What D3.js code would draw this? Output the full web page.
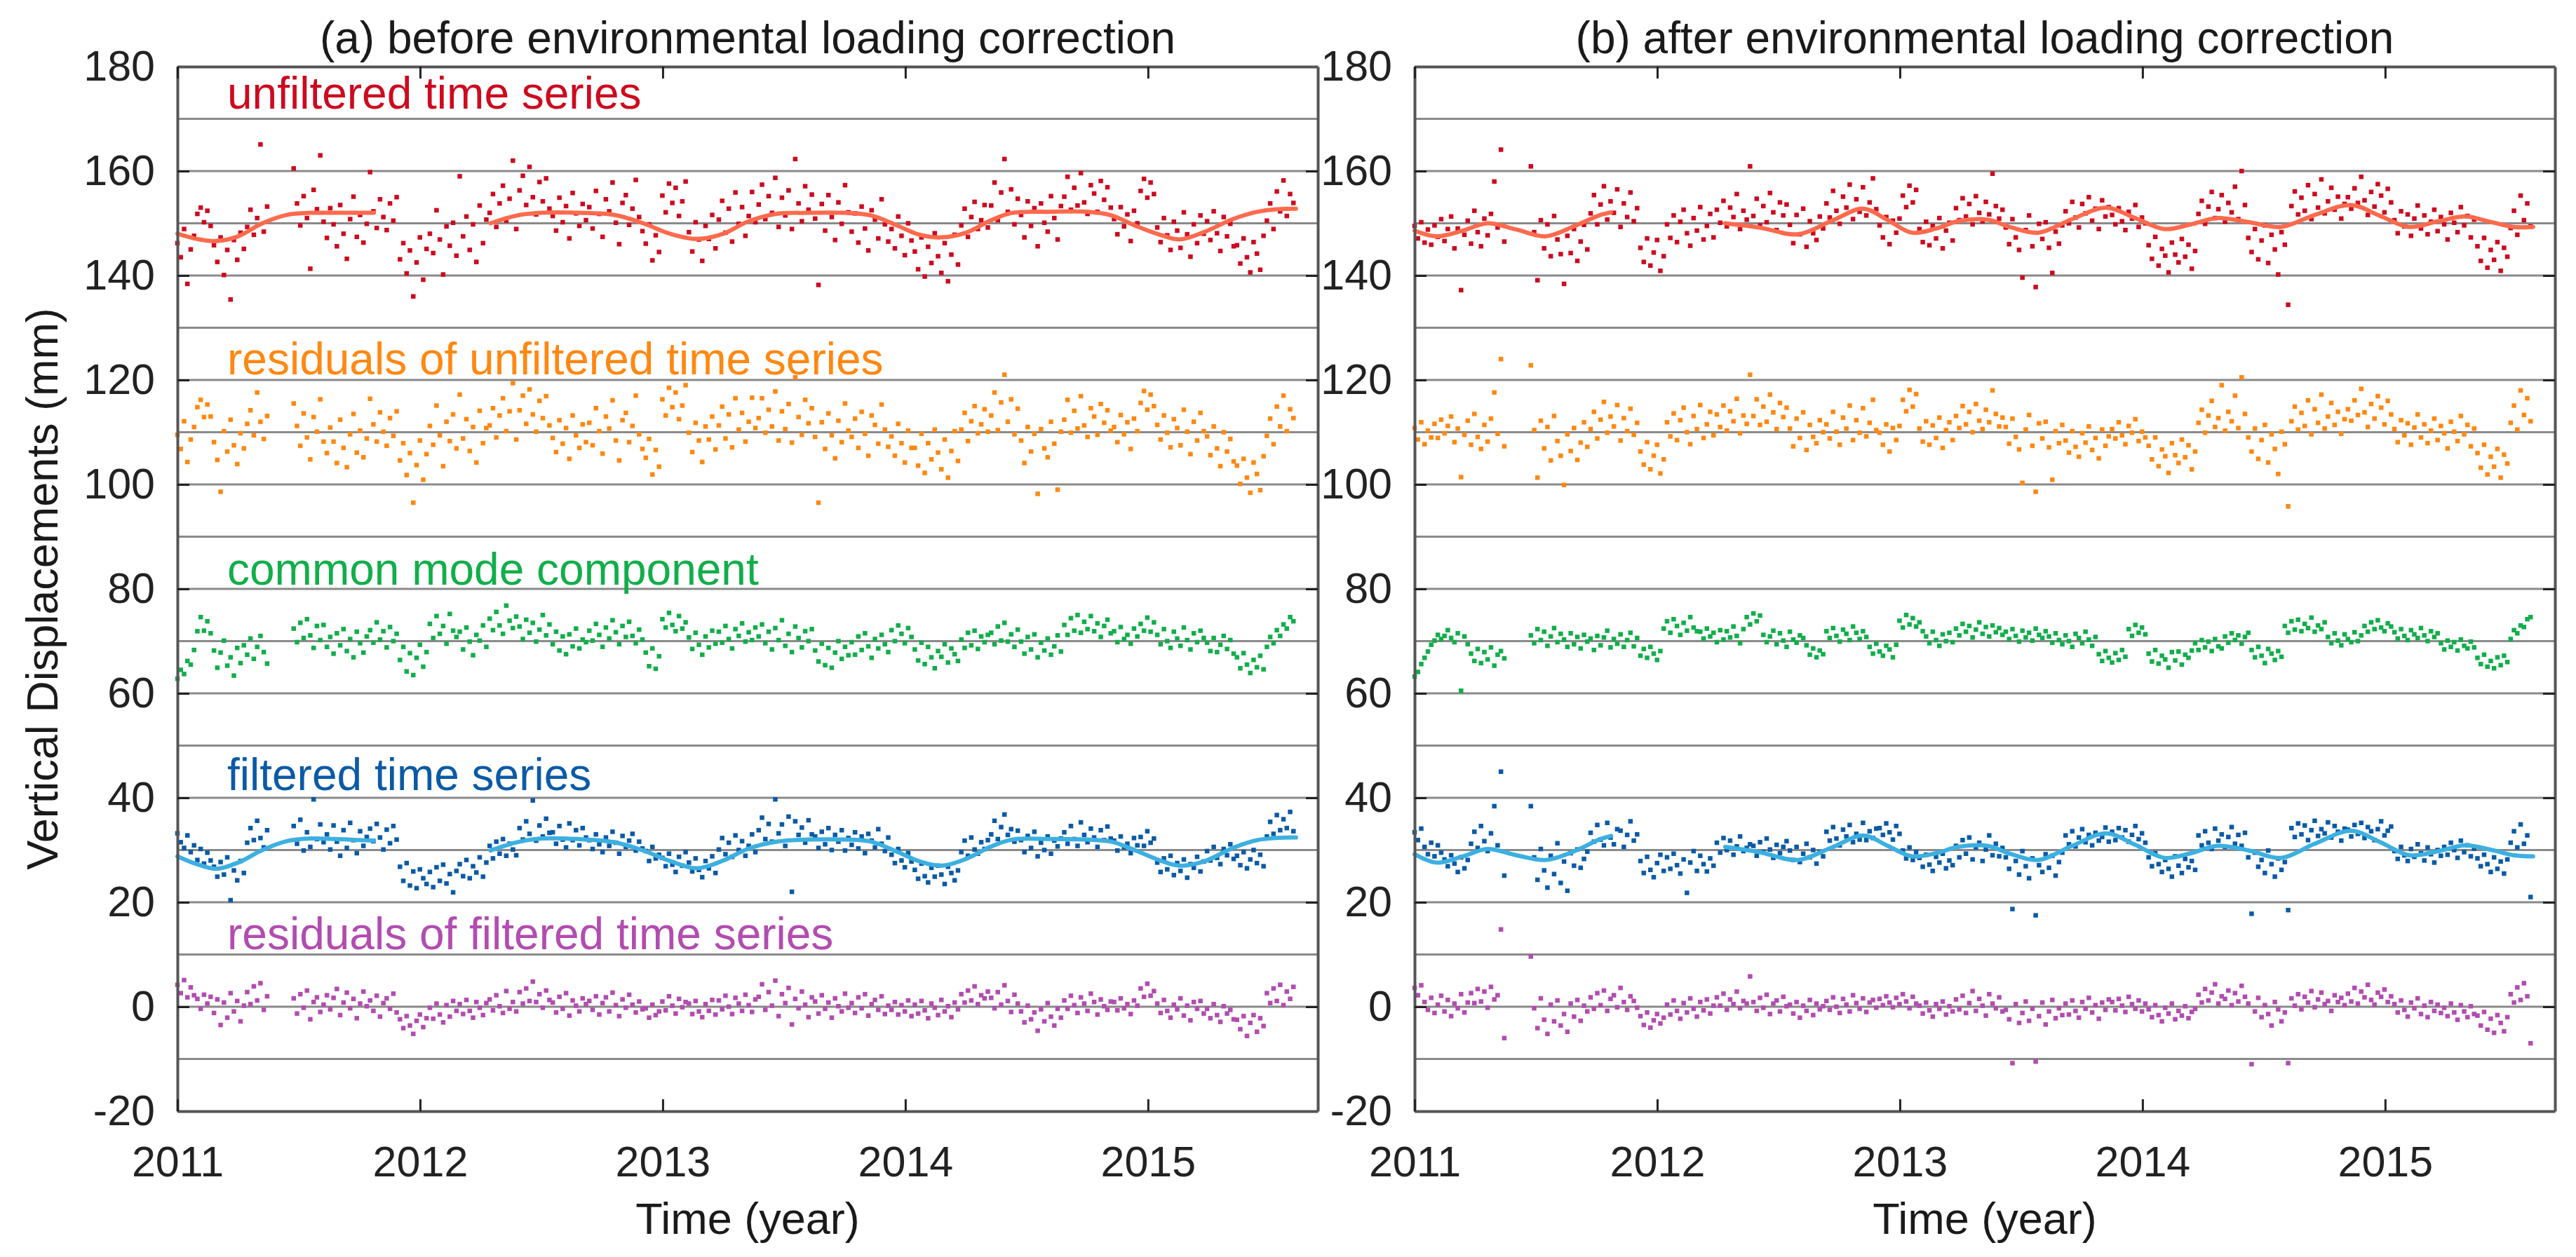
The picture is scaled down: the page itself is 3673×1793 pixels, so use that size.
<!DOCTYPE html>
<html>
<head>
<meta charset="utf-8">
<script src="https://cdn.jsdelivr.net/npm/d3@7"></script>
<style>body{margin:0;background:#fff}</style>
</head>
<body>
<div id="chart"></div>
<script>
// one value every stepDays days from startYear, null = no observation
const startYear = 2011.0
const stepDays = 5
const N = null

// (a) before environmental loading correction
const aRed = [146.2,143.5,148.9,138.4,145.0,147.6,151.8,153.0,150.2,152.4,
149.5,145.8,142.6,147.3,140.1,144.9,135.4,146.8,143.0,148.2,
145.1,149.3,152.6,147.8,151.0,165.1,148.4,153.2,
N,N,N,N,N,N,N,
160.5,153.8,149.6,155.2,151.0,141.3,156.4,152.7,163.0,150.3,
147.2,152.9,149.8,145.6,153.5,148.0,143.2,150.8,155.1,147.4,151.6,146.3,149.9,
159.8,152.3,149.1,154.6,151.2,148.7,153.8,150.5,155.0,
143.1,146.2,140.4,144.8,136.0,142.5,147.3,139.2,145.1,
148.0,144.3,152.5,146.9,140.2,149.4,145.7,150.1,143.8,
159.0,147.5,151.3,144.9,149.8,142.6,153.4,146.2,150.7,
152.0,155.6,149.3,153.8,157.2,150.5,154.7,162.0,148.9,
156.3,159.1,153.5,160.8,155.0,151.7,157.9,154.2,158.6,152.8,
151.4,148.6,154.9,150.2,153.3,147.1,155.8,151.9,149.5,153.7,150.6,
153.1,149.0,156.2,151.8,147.4,154.6,152.3,157.8,150.1,146.0,153.9,155.4,149.7,152.8,158.3,151.2,148.5,
146.1,149.8,142.9,147.7,144.5,
155.3,152.1,157.6,153.9,156.8,151.4,154.2,158.0,
148.3,144.6,150.2,146.9,142.8,149.5,147.0,151.6,145.2,
150.7,154.3,148.2,152.8,146.5,155.9,149.9,153.1,147.6,151.4,156.0,150.2,
153.6,157.4,150.8,155.2,152.0,158.7,149.3,154.9,151.5,156.3,148.9,162.3,153.8,150.4,157.1,152.6,155.5,
150.9,138.2,153.7,148.6,155.4,151.2,146.8,154.0,149.9,157.3,152.1,
148.4,151.9,146.3,153.2,149.0,144.8,152.5,150.7,147.1,154.6,149.8,146.5,
148.9,145.2,151.3,147.6,143.9,150.0,146.7,
144.6,141.2,147.3,139.8,145.5,142.4,148.1,143.7,140.5,146.2,138.9,144.0,147.8,142.1,
149.6,152.8,147.4,151.2,154.1,148.9,150.6,153.5,149.2,
153.4,157.8,150.6,155.9,162.3,152.2,156.5,149.8,154.7,
151.6,147.3,154.2,149.5,152.9,145.6,153.8,150.1,148.4,155.2,151.0,146.9,153.3,
155.1,158.9,152.6,156.8,153.4,159.6,154.0,151.8,157.3,155.7,152.2,158.1,154.5,156.9,153.0,
150.8,147.9,153.1,149.4,151.7,146.6,152.4,150.0,
156.2,158.5,154.9,157.8,155.6,
149.2,146.4,151.0,147.7,144.9,150.3,148.6,145.3,152.1,147.9,143.6,149.8,146.2,151.5,148.0,
150.4,146.8,152.3,148.1,144.7,151.2,147.5,149.9,145.6,
145.8,142.3,147.1,143.5,140.6,146.4,144.2,141.1,147.6,
150.5,153.8,148.9,156.1,152.3,158.2,151.4,155.6,153.9]

const aRes = [109.5,106.8,112.1,104.3,108.6,111.0,114.8,116.2,112.9,115.3,
113.0,108.1,104.7,98.6,110.2,106.3,112.4,107.5,103.9,109.8,
106.9,111.6,114.2,109.4,117.6,112.0,108.7,113.1,
N,N,N,N,N,N,N,
115.5,111.2,107.4,113.6,109.0,104.8,112.9,110.1,116.3,108.2,
106.0,110.9,108.2,104.1,112.4,107.0,103.3,109.6,113.5,106.1,110.3,105.2,108.8,
116.4,111.5,108.2,113.8,110.1,107.4,112.7,109.3,114.0,
104.6,107.9,101.8,106.0,96.5,103.7,108.4,100.9,105.8,
111.2,107.6,115.1,109.4,103.5,112.0,108.3,113.4,106.9,
117.2,108.8,112.5,106.4,111.0,104.2,114.1,107.9,110.8,
111.3,114.6,109.0,113.2,116.5,110.2,114.0,119.4,108.6,
114.2,117.0,111.6,118.2,113.4,110.1,116.0,112.7,116.9,111.3,
108.9,106.2,112.3,107.8,110.8,104.9,113.2,109.4,107.0,111.5,108.1,
111.8,107.5,114.6,110.2,105.9,113.0,110.7,116.1,108.4,104.6,112.3,113.7,108.1,111.2,117.0,109.6,106.8,
105.1,108.7,101.9,106.6,103.4,
116.3,113.2,118.5,114.8,117.6,112.5,115.1,119.0,
109.9,106.2,111.8,108.4,104.3,111.1,108.6,113.0,106.7,
111.3,114.9,108.8,113.4,107.1,116.5,110.5,113.7,108.2,112.0,116.6,110.8,
112.7,116.5,109.9,114.3,111.1,117.8,108.4,114.0,110.6,115.4,108.0,120.5,112.9,109.5,116.2,111.7,114.6,
109.1,96.5,111.9,106.8,113.6,109.4,105.0,112.2,108.1,115.5,110.3,
109.1,112.6,107.0,113.9,109.7,105.5,113.2,111.4,107.8,115.3,110.5,107.2,
109.2,105.5,111.6,107.9,104.2,110.3,107.0,
107.0,103.6,109.7,102.2,107.9,104.8,110.5,106.1,102.9,108.6,101.3,106.4,110.2,104.5,
110.5,113.7,108.3,112.1,115.0,109.8,111.5,114.4,110.1,
113.2,117.6,110.4,115.7,121.0,112.0,116.3,109.6,114.5,
108.4,104.1,111.0,106.3,109.7,98.2,110.6,106.9,105.2,112.0,107.8,99.0,110.1,
112.4,116.2,109.9,114.1,110.7,116.9,111.3,109.1,114.6,113.0,109.5,115.4,111.8,114.2,110.3,
111.0,108.1,113.3,109.6,111.9,106.8,112.6,110.2,
115.6,117.9,114.3,117.2,115.0,
111.4,108.6,113.2,109.9,107.1,112.5,110.8,107.5,114.3,110.1,105.8,112.0,108.4,113.7,110.2,
109.2,105.6,111.1,106.9,103.5,110.0,106.3,108.7,104.4,
103.6,100.1,104.9,101.3,98.4,104.2,102.0,98.9,105.4,
109.3,112.6,107.7,114.9,111.1,117.0,110.2,114.4,112.7]

const aCmc = [62.8,64.5,63.7,66.2,65.5,68.3,71.9,74.6,72.0,73.8,
71.5,68.2,64.9,67.8,70.1,65.3,66.9,63.4,68.7,65.8,
69.2,67.4,70.5,66.6,68.9,71.0,67.9,65.7,
N,N,N,N,N,N,N,
72.4,69.8,73.5,70.6,74.2,71.1,68.7,72.9,70.2,73.1,
68.9,70.8,67.6,71.5,69.2,72.3,68.1,70.4,66.9,71.8,69.6,67.8,70.9,
72.1,69.7,73.6,70.3,71.9,68.8,72.7,70.0,71.4,
66.4,68.9,64.2,67.7,63.5,66.8,69.3,65.1,67.9,
73.3,70.6,74.8,71.4,72.9,69.5,75.2,72.0,70.8,
71.8,68.4,72.6,69.9,67.3,71.2,70.1,73.0,68.9,
74.3,72.1,75.6,73.0,71.4,76.8,73.9,72.5,74.7,
72.8,70.4,74.1,71.6,73.5,69.9,72.2,75.0,71.1,73.2,
69.4,71.8,68.2,70.9,67.5,71.3,69.0,72.4,68.6,70.3,69.8,
72.0,70.1,73.3,71.2,68.9,72.6,70.5,74.0,71.7,69.4,72.9,70.8,73.7,71.0,69.6,72.2,70.3,
67.8,65.2,68.6,64.7,67.1,
74.2,72.6,75.4,73.1,71.9,74.8,72.4,73.6,
70.7,68.5,71.6,69.3,67.4,70.9,68.8,72.0,69.5,
71.8,69.7,72.9,70.4,68.6,72.3,71.0,73.4,69.9,71.7,70.2,72.6,
70.9,73.2,69.6,71.8,68.4,72.5,70.2,74.0,69.1,71.4,67.9,72.8,70.6,68.8,71.9,70.0,72.3,
68.2,66.1,69.5,65.4,68.7,64.9,67.8,70.0,66.6,68.9,67.3,
69.8,67.4,70.9,68.3,71.5,69.0,66.8,70.4,68.6,71.2,69.4,67.9,
72.1,70.0,73.0,71.4,69.6,72.5,70.8,
68.4,66.3,69.7,65.6,68.9,66.9,64.8,68.1,67.0,69.4,65.9,68.6,67.5,66.2,
70.3,68.7,71.6,69.2,72.0,68.5,70.9,69.8,71.2,
71.6,69.4,72.8,70.1,73.5,69.9,71.3,68.9,72.2,
69.9,67.6,70.8,68.4,71.3,66.9,69.7,68.2,70.5,67.4,69.0,71.1,68.0,
73.1,71.2,74.4,72.0,75.0,71.6,73.7,72.3,74.8,71.9,73.4,70.8,72.9,74.1,71.5,
71.9,69.8,72.7,70.4,71.2,69.5,72.4,70.9,
73.3,72.0,74.5,71.8,73.6,
71.2,69.4,72.3,70.0,68.7,71.8,70.5,69.1,72.6,70.2,68.4,71.5,69.8,72.0,70.6,
69.7,68.1,70.6,67.9,69.3,71.0,68.5,70.2,67.6,
66.9,64.8,67.7,65.5,63.9,66.4,65.0,67.2,64.6,
68.9,70.8,69.6,72.1,71.0,73.2,72.4,74.6,73.8]

const aFil = [33.2,31.5,30.4,32.8,29.6,30.9,28.1,30.2,27.4,29.5,
28.0,26.8,24.9,27.7,25.3,28.6,20.4,26.1,24.2,27.9,
25.6,31.4,34.2,31.9,35.6,32.3,30.5,33.8,
N,N,N,N,N,N,N,
34.6,31.2,35.8,29.9,33.4,30.6,39.7,32.1,34.9,31.5,
33.0,30.1,34.7,31.6,28.9,33.8,30.4,35.2,31.9,29.4,33.6,30.8,32.5,
34.1,31.7,35.0,32.4,30.1,33.9,31.3,34.6,32.0,
26.8,24.1,27.5,23.2,25.9,22.7,26.3,24.6,23.5,
25.8,22.9,26.7,24.1,27.2,23.6,25.4,21.9,26.0,
27.3,25.0,28.1,24.6,26.9,25.7,28.6,24.9,27.6,
30.8,28.4,31.6,29.3,32.1,28.9,31.2,30.1,29.0,
34.2,32.0,35.5,33.1,39.5,31.8,34.7,32.6,36.0,33.3,
33.4,31.2,34.6,32.0,30.5,35.1,31.9,33.8,30.9,34.2,32.4,
31.9,30.2,33.0,31.1,29.6,32.4,30.8,33.5,31.4,29.3,32.7,30.6,31.8,33.1,29.9,31.6,30.3,
29.8,27.9,30.6,28.4,29.1,
28.5,26.9,29.3,27.2,25.8,28.7,27.0,29.6,
27.6,25.9,28.4,26.2,24.8,27.9,26.5,28.8,25.6,
30.1,32.3,29.2,31.4,28.7,32.8,30.0,31.7,28.9,30.8,33.0,29.6,
33.8,36.2,32.1,35.0,31.6,39.7,33.2,34.9,30.8,36.4,22.0,35.5,32.9,34.3,31.4,35.7,33.0,
32.6,30.4,33.5,31.1,34.2,30.0,32.9,31.6,33.8,29.9,32.3,
31.0,33.4,30.3,32.6,29.4,33.1,31.8,30.5,34.0,31.2,29.8,32.4,
29.1,27.5,30.2,28.0,26.7,29.4,27.8,
26.2,24.5,27.4,25.0,23.8,26.6,24.9,27.0,25.3,23.5,26.8,25.6,24.2,26.1,
29.6,31.8,28.9,32.4,30.1,29.3,31.5,30.2,31.9,
33.0,35.6,32.1,34.4,36.8,32.9,34.0,31.6,33.7,
31.9,29.6,32.7,30.4,33.5,28.8,31.4,30.0,32.6,29.3,31.8,30.7,32.2,
33.4,31.2,34.6,32.1,30.8,35.3,32.9,31.5,34.1,32.4,30.6,33.8,31.9,34.5,32.2,
31.8,29.9,32.6,30.5,31.2,29.4,32.3,30.9,
32.5,30.8,33.6,31.4,32.2,
27.6,25.8,28.4,26.3,28.9,25.2,27.5,26.0,28.2,24.7,27.3,26.6,28.7,25.9,27.8,
29.8,28.0,30.6,28.5,27.3,30.2,29.0,31.1,28.3,
28.9,27.1,29.6,26.5,28.2,30.0,27.5,29.1,26.9,
32.6,35.4,33.1,36.7,33.8,35.9,34.2,37.3,33.6]

const aFres = [4.2,2.6,5.1,1.8,3.7,2.2,1.5,-0.4,2.3,0.6,
1.9,-1.2,1.4,-3.5,0.8,-2.1,2.6,-0.9,1.1,-2.8,
0.2,2.8,0.5,3.9,1.2,4.5,-0.6,2.0,
N,N,N,N,N,N,N,
1.6,-1.3,2.4,-0.2,3.1,-2.4,0.9,1.8,-1.0,0.4,
2.2,-0.5,1.7,3.4,-1.6,0.8,2.7,-0.3,1.5,-2.2,0.6,2.9,0.1,
1.2,-0.8,2.1,-1.9,0.7,1.6,-0.4,2.5,-1.1,
-2.4,-4.1,-1.8,-3.6,-5.2,-2.7,-1.5,-3.9,-2.2,
-0.2,-2.3,0.6,-1.5,-3.0,0.3,-1.9,1.1,-0.8,
0.5,-1.4,1.3,-0.8,-2.1,0.9,-0.2,-1.6,0.7,
1.4,-0.7,2.2,0.1,-1.2,3.0,-0.4,0.9,-0.9,
2.8,0.6,3.5,1.1,4.8,0.9,2.4,-0.2,3.1,1.3,
0.8,-1.1,1.9,-0.4,2.6,-1.7,1.2,0.2,-0.9,1.6,0.5,
1.1,-0.6,2.0,-1.5,0.7,1.8,-0.9,2.7,0.3,-1.8,1.4,-0.2,2.3,0.4,-1.1,1.0,-0.5,
-0.3,-2.1,0.4,-1.6,-0.9,
1.0,-0.7,2.0,0.2,-1.3,1.5,-0.1,0.9,
0.6,-1.4,1.1,-0.9,-2.0,0.5,-0.8,1.3,-1.5,
1.2,-0.5,2.1,0.0,-1.4,1.7,0.6,-0.8,2.3,0.3,-1.0,1.4,
1.9,4.3,-0.6,2.8,0.2,5.0,-1.8,2.4,0.7,3.6,-3.4,1.5,-0.3,2.9,0.4,-2.0,1.8,
1.0,-1.3,2.2,-0.4,0.8,-2.1,1.6,0.1,-0.9,2.5,-0.2,
0.7,-1.2,1.8,-0.3,2.4,-1.7,0.5,1.3,-0.6,2.0,-1.4,0.2,
-0.6,0.9,-1.5,0.3,-0.9,1.2,-1.8,
0.4,-1.3,1.1,-0.7,-2.2,0.6,-0.2,-1.6,1.3,-0.9,0.1,-2.0,0.8,-0.5,
2.4,0.8,3.1,1.2,3.9,0.5,2.2,1.6,2.9,
1.7,-0.3,2.8,0.4,4.1,1.1,-1.0,2.3,0.6,
-0.9,-3.0,0.2,-2.4,-1.1,-4.6,-0.5,-2.8,0.7,-1.9,-3.6,-0.4,-2.1,
1.2,-0.4,2.1,0.3,-1.2,1.8,0.6,-0.8,2.5,0.9,-1.5,1.4,0.1,-0.6,1.0,
0.9,-0.7,1.6,-0.3,0.5,-1.4,1.2,0.2,
3.5,1.9,4.4,2.1,3.0,
0.6,-1.2,1.3,-0.8,-2.1,0.4,-0.5,1.6,-1.7,0.2,-2.6,0.9,-0.4,1.1,-1.3,
-0.4,-2.2,0.5,-1.6,-2.9,0.1,-1.3,-0.6,-2.4,
-2.5,-4.3,-1.8,-5.6,-3.1,-1.6,-4.8,-2.2,-3.7,
2.6,0.7,3.5,1.1,4.2,0.3,2.9,1.5,3.8]

// (b) after environmental loading correction
const bRed = [149.5,147.1,150.2,146.3,148.8,145.9,149.6,147.4,150.8,146.6,
148.9,151.3,145.2,149.0,137.2,147.8,150.5,146.1,152.4,148.3,
145.6,150.9,147.7,151.8,158.0,149.2,164.1,146.5,
N,N,N,N,N,N,N,
160.9,148.3,139.1,150.6,145.2,149.8,143.7,151.4,146.9,144.1,
138.4,147.6,144.3,148.9,142.8,146.5,149.7,145.0,
151.9,155.4,149.8,153.6,157.1,150.7,154.2,152.0,156.5,149.3,153.8,151.2,155.9,150.4,152.9,
145.3,142.6,147.1,141.9,144.4,146.8,140.9,143.7,
149.8,147.2,151.5,146.4,150.3,152.6,148.1,145.7,151.0,148.6,153.1,146.9,149.5,151.8,147.3,
152.6,150.1,154.3,149.4,153.0,151.2,155.6,148.9,152.4,150.7,160.9,
151.4,154.7,149.6,153.3,150.2,155.8,152.1,148.7,154.0,151.5,153.6,
149.7,146.2,151.6,147.9,152.8,145.5,150.4,148.1,146.8,151.3,149.0,
153.8,151.1,156.2,152.4,149.9,155.1,153.0,157.4,150.8,154.6,152.2,156.9,151.5,154.0,158.6,152.7,
149.6,147.3,151.2,146.0,150.5,148.2,150.9,
155.3,153.1,157.2,154.0,156.4,
148.9,146.4,150.3,145.8,149.5,147.1,151.0,145.2,148.6,150.1,146.7,
152.9,150.6,154.8,151.3,153.7,149.8,155.2,152.0,150.4,154.1,151.7,159.5,153.3,150.9,152.6,
149.2,146.0,150.8,147.3,144.9,139.6,148.7,151.5,145.6,137.8,149.9,147.0,150.2,145.3,140.5,148.4,146.1,149.6,
152.3,150.0,154.1,151.1,149.2,153.7,151.9,155.0,150.5,152.8,148.9,154.4,151.3,153.1,
151.6,149.8,152.9,150.4,148.7,152.2,150.9,153.5,149.3,151.1,150.0,
145.8,143.2,147.4,141.9,145.1,143.8,140.6,146.3,144.0,142.5,147.0,143.6,145.9,141.3,144.7,
151.8,154.3,149.9,153.2,156.0,151.0,152.7,155.4,150.3,153.9,152.1,157.0,150.8,160.0,153.5,
147.2,144.5,148.9,143.1,146.7,149.6,142.4,147.8,145.0,140.2,148.3,145.9,134.4,
153.3,156.1,151.7,154.9,152.4,157.3,150.8,155.6,153.0,158.4,151.9,154.2,156.8,152.6,155.1,150.9,153.7,
155.0,152.8,156.7,153.9,158.9,154.4,151.6,156.0,153.2,157.5,155.3,152.1,156.6,154.0,
150.6,148.1,152.3,149.4,151.7,147.6,150.9,153.4,149.0,151.5,147.9,150.3,152.6,148.5,151.2,149.8,146.9,152.0,150.1,148.3,153.1,149.6,151.4,147.3,150.7,
145.6,142.8,147.2,141.5,144.9,143.0,146.4,140.9,145.3,143.6,
149.1,152.4,147.8,155.3,150.6,153.8,149.4]

const bRes = [110.8,108.6,111.9,107.7,110.3,109.0,111.6,108.9,112.4,109.8,
111.2,113.0,108.1,110.7,101.4,109.5,112.2,107.6,113.5,109.1,
106.8,111.4,108.2,112.6,117.6,109.7,124.0,107.3,
N,N,N,N,N,N,N,
122.8,110.4,101.3,112.2,106.9,111.0,104.6,113.1,108.3,105.5,
99.9,109.6,106.4,110.8,104.7,108.0,111.9,107.2,
110.6,113.9,108.8,112.4,115.8,109.9,113.0,111.1,115.2,108.4,112.7,110.2,114.5,109.5,111.8,
106.3,103.8,108.1,102.9,105.5,107.6,102.1,104.8,
111.9,109.2,113.6,108.5,112.3,114.7,110.0,107.7,113.1,110.6,115.2,108.9,111.5,113.9,109.4,
113.4,111.0,115.1,110.3,114.0,112.1,116.4,109.8,113.2,111.6,121.0,
113.1,116.3,111.4,114.9,112.0,117.2,113.8,110.6,115.6,112.9,114.7,
110.7,107.3,112.6,108.9,113.8,106.6,111.4,109.1,107.9,112.3,110.0,
111.5,108.8,113.9,110.1,107.6,112.8,110.7,115.1,108.5,112.3,109.9,114.6,109.2,111.8,116.2,110.4,
109.9,107.6,111.5,106.3,110.8,108.5,111.2,
116.2,114.0,118.1,114.9,117.3,
110.7,108.2,112.1,107.6,111.3,108.9,112.8,107.0,110.4,111.9,108.5,
113.1,110.8,115.0,111.5,113.9,110.0,115.4,112.2,110.6,114.3,111.9,118.0,113.5,111.1,112.8,
111.0,107.8,112.6,109.1,106.7,100.3,110.5,113.3,107.4,98.6,111.7,108.8,112.0,107.1,100.9,110.2,107.9,111.4,
108.4,106.1,110.2,107.2,105.3,109.8,108.0,111.1,106.6,108.9,105.0,110.5,107.4,109.2,
110.6,108.8,111.9,109.4,107.7,111.2,109.9,112.5,108.3,110.1,109.0,
107.4,104.8,109.0,103.5,106.7,105.4,102.2,107.9,105.6,104.1,108.6,105.2,107.5,102.9,106.3,
111.8,114.3,109.9,113.2,116.0,111.0,112.7,119.0,110.3,113.9,112.1,117.0,110.8,120.5,113.5,
109.0,106.3,110.7,104.9,108.5,111.4,104.2,109.6,106.8,102.0,110.1,107.7,95.8,
112.1,114.9,110.5,113.7,111.2,116.1,109.6,114.4,111.8,117.2,110.7,113.0,115.6,111.4,113.9,109.7,112.5,
114.4,112.2,116.1,113.3,118.3,113.8,111.0,115.4,112.6,116.9,114.7,111.5,116.0,113.4,
110.6,108.1,112.3,109.4,111.7,107.6,110.9,113.4,109.0,111.5,107.9,110.3,112.6,108.5,111.2,109.8,106.9,112.0,110.1,108.3,113.1,109.6,111.4,107.3,110.7,
106.0,103.2,107.6,101.9,105.3,103.4,106.8,101.3,105.7,104.0,
111.8,115.1,110.5,118.0,113.3,116.5,112.1]

const bCmc = [63.2,64.1,65.6,66.8,68.0,69.3,70.1,71.2,70.4,71.0,
72.1,70.6,69.8,71.5,60.5,70.9,69.4,67.6,66.2,68.5,
65.8,67.9,66.5,68.8,65.3,67.4,68.1,66.7,
N,N,N,N,N,N,N,
71.1,69.6,72.3,70.2,71.8,69.1,70.9,72.5,69.8,71.4,
70.3,68.9,71.5,69.4,70.8,68.6,71.2,69.9,70.5,68.3,
71.0,69.2,70.7,72.0,68.8,70.4,69.5,71.3,68.9,70.2,71.6,69.0,70.6,
67.2,68.5,66.8,68.9,67.6,66.4,68.1,
72.4,73.8,71.6,74.2,72.9,71.2,73.5,72.0,74.6,72.6,71.9,
71.8,70.5,72.4,70.9,71.6,69.8,72.1,70.3,71.9,70.7,72.8,71.0,69.6,72.3,
74.6,73.2,75.3,73.8,74.9,
71.2,69.8,70.9,72.0,69.4,71.5,70.1,68.9,71.8,70.3,69.7,71.1,70.6,69.2,
67.4,68.6,66.9,68.2,67.5,
71.9,70.6,72.5,71.0,69.9,72.2,71.4,70.2,72.8,71.6,70.4,71.9,70.8,
68.9,67.6,69.5,68.0,67.2,69.1,68.4,66.9,69.3,
73.9,72.6,75.0,73.2,74.4,72.8,73.6,71.9,
70.9,69.6,71.8,70.2,69.1,71.3,70.0,71.6,69.8,
72.4,71.1,73.3,71.8,72.9,70.7,72.2,73.6,71.4,72.7,70.9,73.0,71.7,72.5,71.2,
71.8,70.4,72.3,71.0,69.9,72.0,70.7,71.6,70.1,72.4,71.2,70.6,71.9,
70.9,69.7,71.5,70.2,69.4,71.1,70.0,68.9,71.4,70.6,69.6,71.8,70.3,69.1,70.8,
67.5,66.2,68.1,66.8,65.9,67.7,66.4,68.3,67.0,
72.3,71.0,73.1,71.6,72.6,71.3,
67.6,66.1,68.3,65.7,67.2,66.5,64.9,67.9,66.3,68.0,65.5,67.4,66.8,68.2,
69.6,68.3,70.2,68.8,69.9,68.1,70.4,69.0,68.6,
70.9,69.7,71.5,70.2,71.1,69.5,70.8,71.6,
68.3,66.9,68.9,67.2,65.8,68.5,67.6,66.4,68.1,67.0,
72.9,71.6,73.8,72.2,74.1,71.9,73.3,72.5,74.5,71.8,73.0,72.3,73.6,
70.8,69.6,71.5,70.1,69.2,71.3,70.4,69.8,71.7,70.0,71.1,
72.9,71.8,73.6,72.3,74.0,72.6,71.9,73.4,72.8,
71.7,70.5,72.3,71.0,70.2,72.1,71.3,70.6,72.5,71.1,70.0,71.9,70.8,71.5,
69.6,68.4,70.1,68.9,69.8,68.2,70.3,69.1,68.6,69.9,68.8,
66.8,65.6,67.4,65.1,66.2,64.8,66.9,65.4,67.2,66.0,
70.4,72.1,71.5,73.0,72.7,74.2,74.6]

const bFil = [33.4,31.9,34.1,30.6,29.2,31.4,28.8,30.9,29.5,28.2,
26.9,29.0,27.4,25.8,28.6,26.5,28.1,31.2,33.5,30.4,
34.6,31.7,29.8,33.2,38.4,30.9,45.0,25.1,
N,N,N,N,N,N,N,
38.4,28.6,24.3,30.2,26.1,22.8,28.9,25.4,31.3,23.7,
27.8,22.2,29.4,27.0,30.1,26.6,28.3,29.7,
33.3,31.6,34.8,32.0,30.9,35.2,32.4,31.1,34.0,33.7,30.6,32.9,35.5,31.8,33.0,
27.9,25.6,28.7,26.2,24.8,27.5,29.1,26.0,
28.6,26.4,29.3,27.1,25.5,28.2,21.8,27.6,29.8,26.0,28.9,27.3,25.9,28.4,27.0,
31.4,29.5,32.3,30.0,31.8,29.1,30.7,32.6,29.8,30.4,31.1,
30.8,28.9,31.5,29.6,32.2,30.1,28.5,31.0,29.4,30.6,31.7,
29.9,28.1,30.6,27.7,29.3,31.2,28.6,30.0,27.4,29.6,28.8,
33.5,31.8,34.4,32.2,30.9,33.9,32.6,34.8,31.5,33.1,32.0,35.2,31.9,33.6,32.3,34.1,
34.2,32.9,35.1,33.4,32.0,34.6,33.1,
29.9,28.4,30.5,28.1,29.6,
28.5,26.8,29.1,27.2,26.0,28.7,27.6,29.3,26.5,28.0,27.1,
30.8,28.6,31.9,29.3,32.4,28.2,30.5,31.4,27.9,30.1,32.8,29.0,31.2,28.8,30.4,
28.6,26.4,18.7,27.9,25.3,29.8,26.9,24.6,28.4,17.5,27.1,25.8,29.2,26.6,28.9,25.1,27.7,29.5,
32.8,31.1,33.6,30.7,32.4,34.0,31.5,32.9,30.9,33.3,31.8,32.5,34.3,31.6,
33.5,31.9,34.2,32.4,33.8,31.6,32.9,34.6,32.1,33.2,31.4,
28.6,26.9,29.4,27.3,25.8,28.1,26.4,24.9,28.8,27.0,25.6,28.3,26.7,27.9,26.2,
32.8,30.9,33.6,31.4,30.2,34.1,31.8,33.0,30.6,32.5,34.4,31.2,32.9,30.8,33.3,
28.6,17.8,29.5,26.8,28.1,25.6,29.9,27.3,24.9,28.4,26.2,27.7,18.5,
34.2,32.5,35.1,33.0,34.7,31.9,33.8,35.6,32.7,34.0,33.2,35.3,32.4,34.6,33.5,31.8,34.1,
33.9,32.6,34.8,33.1,35.2,32.3,34.4,33.6,31.9,34.0,35.5,32.8,33.7,34.5,
29.8,28.3,30.6,29.0,27.9,30.2,28.7,31.1,29.4,28.0,30.5,29.2,27.6,30.0,28.9,
30.6,29.1,31.4,30.0,28.5,31.8,29.6,30.9,28.8,30.3,
28.4,26.9,29.1,27.3,25.8,28.6,26.4,27.8,25.5,28.2,
31.4,33.6,30.5,34.9,31.2,32.8,21.0]

const bFres = [3.6,2.2,4.1,0.9,-0.6,1.7,-1.2,0.4,2.1,-0.9,
1.3,-1.8,0.6,-0.3,2.4,-1.1,0.8,2.6,0.7,3.4,
1.0,2.9,-0.2,3.8,1.4,2.2,14.8,-6.0,
N,N,N,N,N,N,N,
9.6,-0.3,-4.1,1.6,-2.5,-5.2,0.4,-2.8,1.2,-3.6,
-1.4,-4.8,0.6,-1.9,1.3,-2.7,0.2,-0.9,
1.8,-0.4,2.6,0.3,3.1,-0.8,1.5,2.2,-0.1,3.6,0.9,-0.6,2.0,1.1,-0.2,
-1.8,-3.5,-1.1,-4.0,-2.6,-1.4,-3.2,-2.1,
0.4,-1.5,1.2,-0.8,-2.3,0.7,-1.1,1.6,-0.4,-1.9,0.9,-0.7,1.4,-1.3,0.2,
1.8,0.2,2.5,-0.6,1.4,0.5,2.9,-0.3,1.1,0.6,5.8,
0.9,-0.8,1.7,-0.2,2.3,-1.4,0.6,1.2,-0.9,1.9,0.1,
0.4,-1.3,0.9,-2.1,0.2,-0.8,1.3,-1.6,0.6,-0.5,0.1,
1.1,-0.6,1.8,0.0,-1.2,1.5,0.4,-0.9,2.2,0.7,-0.4,1.6,-1.0,0.8,1.3,-0.2,
1.5,0.3,2.0,0.8,-0.1,1.7,0.5,2.4,1.0,-0.3,1.9,0.6,
0.2,-1.3,0.8,-0.7,-1.9,0.5,-0.4,1.0,-1.5,0.1,-0.9,
1.4,-0.5,2.1,-1.2,0.7,3.0,-0.8,1.5,0.2,-1.7,2.4,0.6,-0.3,1.8,-0.9,
-0.6,-2.4,-10.8,0.5,-3.1,-1.2,1.0,-2.7,-0.4,-10.5,-1.8,0.8,-3.4,-0.9,1.3,-2.2,-0.3,-1.6,
0.6,-1.5,1.2,-0.8,-2.1,0.9,-0.4,1.7,-1.1,0.3,-2.3,0.8,-0.6,1.4,
0.9,-0.7,1.5,0.2,-1.0,1.9,0.5,-0.4,1.2,-0.9,0.6,
-0.5,-2.0,0.3,-1.6,-2.8,-0.2,-1.3,0.6,-2.4,-0.8,-1.7,0.1,-2.2,-1.0,-0.4,
2.3,0.8,3.4,1.2,2.7,4.3,0.6,2.0,1.5,3.1,0.3,2.6,1.0,4.0,1.9,
0.6,-11.0,-0.9,1.7,-2.0,0.3,-1.4,-3.6,0.9,-0.5,-2.8,-1.1,-10.8,
1.6,0.2,2.4,-0.5,1.9,0.8,3.0,-0.1,1.4,2.7,0.5,1.1,-0.8,2.2,0.9,1.7,0.3,
2.5,1.0,3.6,0.6,2.9,1.8,4.2,1.3,0.4,2.7,1.9,3.3,0.9,2.0,
0.5,-1.1,1.2,-0.6,-1.9,0.8,-0.3,1.6,-1.4,0.2,-2.0,0.9,-0.8,0.4,-1.2,
-0.2,-1.8,0.6,-1.1,-2.5,0.3,-0.9,-2.0,0.1,-1.4,
-1.7,-3.6,-1.0,-4.4,-2.3,-5.0,-1.6,-3.1,-4.7,-2.0,
2.4,0.8,3.7,1.3,4.5,2.0,-7.0]

// fitted seasonal curves (year, value); null breaks the curve
const aFitT = [2011.00,2011.08,2011.16,2011.25,2011.35,2011.45,2011.55,2011.65,2011.75,2011.81,2012.05,
2012.29,2012.40,2012.50,2012.65,2012.80,2012.92,2013.03,2013.14,2013.25,2013.35,2013.47,2013.60,2013.75,
2013.86,2013.97,2014.06,2014.15,2014.25,2014.35,2014.44,2014.60,2014.75,2014.85,2014.95,2015.05,2015.13,
2015.23,2015.35,2015.45,2015.53,2015.61]
const aFitRed = [148.0,147.0,146.6,147.5,150.0,151.6,152.0,152.0,152.0,152.0,N,
150.0,151.5,152.0,152.0,151.6,150.0,148.0,147.0,148.0,150.3,151.8,152.0,152.0,
151.5,149.5,147.8,147.3,148.2,150.5,152.0,152.2,152.2,151.5,149.5,147.8,146.9,
148.3,150.8,152.2,152.7,152.8]
const aFitBlue = [28.8,27.3,26.4,27.6,30.0,31.7,32.2,32.1,31.9,31.8,N,
29.9,31.5,32.2,32.1,31.5,29.9,27.9,26.5,28.0,30.2,31.6,32.0,32.0,
31.6,29.6,27.8,27.0,28.3,30.6,32.0,32.1,32.0,31.6,29.9,28.0,27.0,
27.8,30.4,31.9,32.3,32.4]

const bFitT = [2011.00,2011.09,2011.20,2011.30,2011.42,2011.54,2011.66,2011.76,2011.81,2012.05,
2012.28,2012.42,2012.58,2012.72,2012.85,2012.95,2013.05,2013.15,2013.24,2013.36,2013.46,2013.57,2013.71,
2013.85,2013.97,2014.09,2014.20,2014.31,2014.44,2014.57,2014.71,2014.86,2014.98,2015.10,2015.22,2015.33,
2015.44,2015.53,2015.61]
const bFitRed = [148.6,147.5,148.6,150.0,148.8,147.5,149.5,151.5,152.1,N,
150.0,149.2,147.9,150.5,152.8,150.6,148.2,149.0,150.4,150.7,149.2,148.2,150.8,
153.0,151.0,148.9,149.8,151.0,150.2,149.3,151.6,153.5,151.4,149.3,150.4,151.3,
150.2,149.3,149.3]
const bFitBlue = [29.2,27.6,28.8,30.2,29.0,28.1,29.8,32.0,32.7,N,
30.6,29.6,28.1,30.5,32.8,30.8,28.8,29.4,30.6,30.8,29.2,28.1,30.8,
33.2,31.0,28.5,29.4,30.8,29.9,28.5,31.2,33.7,31.5,29.0,29.8,30.9,
30.0,29.0,28.8]

const seriesNames = ["unfiltered time series", "residuals of unfiltered time series",
  "common mode component", "filtered time series", "residuals of filtered time series"]
const seriesColors = ["#cd0a1f", "#ff8811", "#11ae4a", "#0b5aa6", "#b24cb0"]
const labelValues = [171.9, 121.1, 80.8, 41.5, 11.0]
const fitColors = ["#ff6a4d", "#3cb0e0"]
const yTicks = [-20, 0, 20, 40, 60, 80, 100, 120, 140, 160, 180]
const yGrid = [-10, 0, 10, 20, 30, 40, 50, 60, 70, 80, 90, 100, 110, 120, 130, 140, 150, 160, 170]
const xTicks = [2011, 2012, 2013, 2014, 2015]

const panels = [
  {title: "(a) before environmental loading correction", series: [aRed, aRes, aCmc, aFil, aFres],
   fitT: aFitT, fits: [aFitRed, aFitBlue], labels: true},
  {title: "(b) after environmental loading correction", series: [bRed, bRes, bCmc, bFil, bFres],
   fitT: bFitT, fits: [bFitRed, bFitBlue], labels: false}
]

const W = 3673, H = 1793
const plotTop = 95, plotBottom = 1585
const panelW = 1626
const panelLefts = [253, 2017]
const font = '"Helvetica Neue", Helvetica, "Liberation Sans", Arial, sans-serif'
const dot = 6.5

const svg = d3.select("#chart").append("svg")
  .attr("width", W).attr("height", H)
  .style("background", "#fff")

const y = d3.scaleLinear().domain([-20, 180]).range([plotBottom, plotTop])
const toYear = i => startYear + i * stepDays / 365.25

panels.forEach((p, k) => {
  const left = panelLefts[k]
  const x = d3.scaleLinear().domain([2011, 2015.70]).range([left, left + panelW])
  const g = svg.append("g")

  // horizontal gridlines
  g.selectAll(".grid").data(yGrid).enter().append("line")
    .attr("x1", left).attr("x2", left + panelW)
    .attr("y1", d => y(d)).attr("y2", d => y(d))
    .attr("stroke", "#8a8a8a").attr("stroke-width", 3)

  // daily solutions
  p.series.forEach((vals, s) => {
    const pts = vals.map((v, i) => ({t: toYear(i), v: v})).filter(d => d.v != null)
    g.append("g").selectAll("rect").data(pts).enter().append("rect")
      .attr("x", d => x(d.t) - dot / 2).attr("y", d => y(d.v) - dot / 2)
      .attr("width", dot).attr("height", dot)
      .attr("fill", seriesColors[s])
  })

  // fitted curves
  const line = d3.line()
    .defined(d => d[1] != null)
    .x(d => x(d[0])).y(d => y(d[1]))
    .curve(d3.curveCatmullRom.alpha(0.5))
  p.fits.forEach((fv, f) => {
    g.append("path")
      .datum(p.fitT.map((t, i) => [t, fv[i]]))
      .attr("d", line)
      .attr("fill", "none")
      .attr("stroke", fitColors[f])
      .attr("stroke-width", 6)
      .attr("stroke-linecap", "round")
  })

  // series labels
  if (p.labels) {
    g.selectAll(".lab").data(seriesNames).enter().append("text")
      .attr("x", left + 71).attr("y", (d, i) => y(labelValues[i]))
      .attr("fill", (d, i) => seriesColors[i])
      .style("font-family", font).style("font-size", "64px")
      .text(d => d)
  }

  // axes on all four sides, ticks pointing inwards
  const axL = g.append("g").attr("transform", `translate(${left},0)`)
    .call(d3.axisLeft(y).tickValues(yTicks).tickSize(-17).tickSizeOuter(0).tickPadding(32)
      .tickFormat(d => String(d)))
  const axR = g.append("g").attr("transform", `translate(${left + panelW},0)`)
    .call(d3.axisRight(y).tickValues(yTicks).tickSize(-17).tickSizeOuter(0).tickFormat(() => ""))
  const axB = g.append("g").attr("transform", `translate(0,${plotBottom})`)
    .call(d3.axisBottom(x).tickValues(xTicks).tickSize(-17).tickSizeOuter(0).tickPadding(50)
      .tickFormat(d => String(d)))
  const axT = g.append("g").attr("transform", `translate(0,${plotTop})`)
    .call(d3.axisTop(x).tickValues(xTicks).tickSize(-17).tickSizeOuter(0).tickFormat(() => ""))

  ;[axL, axR, axB, axT].forEach(a => {
    a.select(".domain").attr("stroke", "#555").attr("stroke-width", 4)
    a.selectAll(".tick line").attr("stroke", "#222").attr("stroke-width", 3)
    a.selectAll(".tick text").attr("fill", "#222")
      .style("font-family", font).style("font-size", "61px")
  })

  // panel title and x label
  g.append("text")
    .attr("x", left + panelW / 2).attr("y", 76)
    .attr("text-anchor", "middle").attr("fill", "#1a1a1a")
    .style("font-family", font).style("font-size", "64px")
    .text(p.title)
  g.append("text")
    .attr("x", left + panelW / 2).attr("y", 1760)
    .attr("text-anchor", "middle").attr("fill", "#1a1a1a")
    .style("font-family", font).style("font-size", "63px")
    .text("Time (year)")
})

svg.append("text")
  .attr("transform", `translate(82,${(plotTop + plotBottom) / 2}) rotate(-90)`)
  .attr("text-anchor", "middle").attr("fill", "#1a1a1a")
  .style("font-family", font).style("font-size", "63px")
  .text("Vertical Displacements (mm)")
</script>
</body>
</html>
